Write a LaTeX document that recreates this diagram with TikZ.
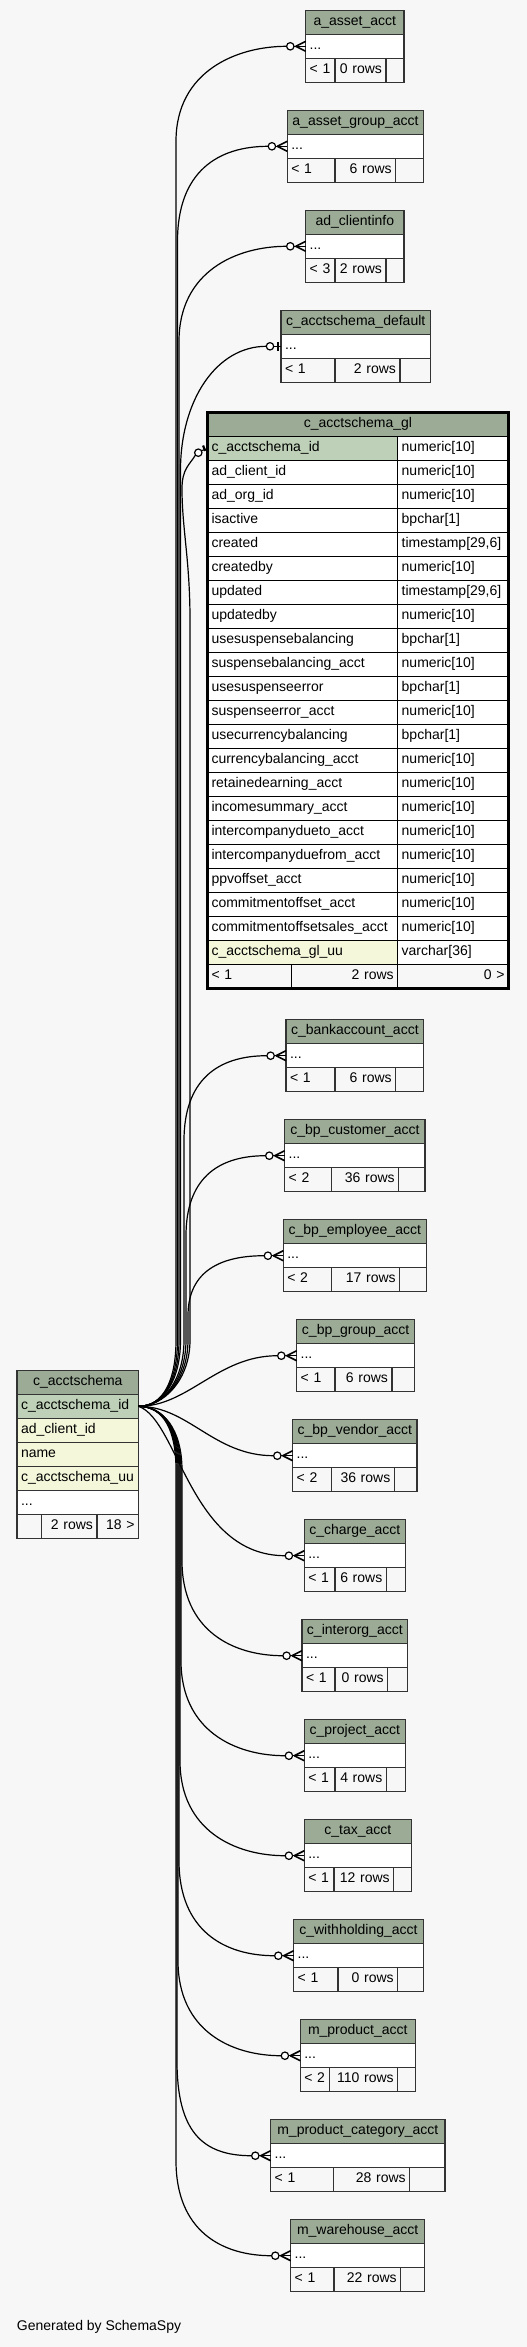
\documentclass[tikz,border=0pt]{standalone}
\usepackage{fontspec}
\setmainfont{Liberation Sans}
\usetikzlibrary{calc}
\definecolor{cBg}{HTML}{F7F7F7}
\definecolor{cHead}{HTML}{9BAB96}
\definecolor{cKey}{HTML}{BED1B8}
\definecolor{cIdx}{HTML}{F4F7DA}
\definecolor{cLine}{HTML}{333333}

\newcommand{\tfont}{\fontsize{14}{16}\selectfont}

% small table: name, left, top, right, title, min, rows, div1, div2
\newcommand{\accttable}[9]{%
  \pgfmathsetmacro{\wA}{#4-#2-8}%
  \pgfmathsetmacro{\wB}{#8-#2-8}%
  \pgfmathsetmacro{\wC}{#9-#8-8}%
  \pgfmathsetmacro{\wD}{#4-#9-8}%
  \node[hcell, text width=\wA pt] (#1-h) at (#2,#3) {#5};
  \node[rcell, text width=\wA pt] (#1-r) at (#2,#3+24) {...};
  \node[fcell, text width=\wB pt] (#1-f1) at (#2,#3+48) {#6};
  \node[fcell, text width=\wC pt, align=right] (#1-f2) at (#8,#3+48) {#7};
  \node[fcell, text width=\wD pt] (#1-f3) at (#9,#3+48) {};
}

% zero-or-many end at the dots row of a table
\newcommand{\crowfoot}[1]{%
  \draw[rel] ($(#1-r.west)+(-11.7,0)$) -- (#1-r.west);
  \draw[crowline] ($(#1-r.west)+(-10,0)$) -- ($(#1-r.west)+(0,-5)$);
  \draw[crowline] ($(#1-r.west)+(-10,0)$) -- ($(#1-r.west)+(0,5)$);
  \draw[rel, fill=white] ($(#1-r.west)+(-15.4,0)$) circle[radius=3.7];
}

% link going up the bundle: target, lane, rise, bend
\newcommand{\uplink}[4]{%
  \draw[rel] let \p1=(#1-r.west) in
    (acs-id.east) .. controls +(25,0) and +(0,40) .. (#2,1340)
    -- (#2,\y1-#3) .. controls +(0,-#4) and +(-50,0) .. ($(#1-r.west)+(-19.1,0)$);
  \crowfoot{#1}}

% link going down the bundle: target, lane, drop, bend
\newcommand{\downlink}[4]{%
  \draw[rel] let \p1=(#1-r.west) in
    (acs-id.east) .. controls +(25,0) and +(0,-40) .. (#2,1470)
    -- (#2,\y1+#3) .. controls +(0,#4) and +(-50,0) .. ($(#1-r.west)+(-19.1,0)$);
  \crowfoot{#1}}

\begin{document}
\begin{tikzpicture}[
    x=1pt, y=-1pt,
    % --- Cell styles ---
    cell/.style={
        draw=cLine, line width=1.3pt, anchor=north west, outer sep=0pt,
        inner xsep=4pt, inner ysep=0pt, minimum height=24pt,
        text height=10pt, text depth=3.5pt, font=\tfont, align=left
    },
    hcell/.style={cell, fill=cHead, align=center},
    rcell/.style={cell, fill=white},
    fcell/.style={cell, fill=cBg},
    gcell/.style={cell, draw=black, line width=0.9pt},
    % --- Link styles ---
    rel/.style={draw=black, line width=1.2pt},
    crowline/.style={draw=black, line width=1.6pt},
    barline/.style={draw=black, line width=2.2pt},
]

\fill[cBg] (0,0) rectangle (527,2347);
\useasboundingbox (0,0) rectangle (527,2347);

% =============================================
% CHILD TABLES (right column)
% =============================================

\accttable{aaa}{305.7}{10.3}{404}{a\_asset\_acct}{< 1}{0 rows}{335}{386}
\accttable{aag}{287.3}{110.3}{423.7}{a\_asset\_group\_acct}{< 1}{6 rows}{335}{395.7}
\accttable{aci}{305.7}{210.3}{404}{ad\_clientinfo}{< 3}{2 rows}{335}{386}
\accttable{asd}{281}{310.3}{430.3}{c\_acctschema\_default}{< 1}{2 rows}{335}{400}

\accttable{bka}{286}{1019.7}{423.7}{c\_bankaccount\_acct}{< 1}{6 rows}{335}{395.7}
\accttable{bpc}{284.7}{1119.7}{425}{c\_bp\_customer\_acct}{< 2}{36 rows}{331.3}{398.7}
\accttable{bpe}{283.3}{1219.7}{426.3}{c\_bp\_employee\_acct}{< 2}{17 rows}{331.3}{399.7}
\accttable{bpg}{296.7}{1319.7}{414.7}{c\_bp\_group\_acct}{< 1}{6 rows}{335}{392}
\accttable{bpv}{292.7}{1419.7}{417}{c\_bp\_vendor\_acct}{< 2}{36 rows}{331.3}{394.3}
\accttable{chg}{304.3}{1519.7}{405.3}{c\_charge\_acct}{< 1}{6 rows}{335}{386.3}
\accttable{ioa}{302}{1619.7}{407.7}{c\_interorg\_acct}{< 1}{0 rows}{335}{387.7}
\accttable{prj}{304.3}{1719.7}{405.3}{c\_project\_acct}{< 1}{4 rows}{335}{386.3}
\accttable{tax}{304.3}{1819.7}{411.3}{c\_tax\_acct}{< 1}{12 rows}{334}{393.7}
\accttable{whd}{293.7}{1919.7}{423.3}{c\_withholding\_acct}{< 1}{0 rows}{338}{397.7}
\accttable{mpa}{300.3}{2019.7}{415.3}{m\_product\_acct}{< 2}{110 rows}{329.7}{397.7}
\accttable{mpc}{270.7}{2119.7}{445}{m\_product\_category\_acct}{< 1}{28 rows}{333.7}{409.7}
\accttable{mwh}{290.7}{2219.7}{424.7}{m\_warehouse\_acct}{< 1}{22 rows}{334}{400.7}

% =============================================
% C_ACCTSCHEMA_GL (full column list)
% =============================================

\node[gcell, fill=cHead, align=center, text width=293pt, minimum height=24.5pt] (gl-h) at (207.5,412.2) {c\_acctschema\_gl};

\foreach \nm/\ty/\cl [count=\i] in {
    c\_acctschema\_id/numeric[10]/cKey,
    ad\_client\_id/numeric[10]/white,
    ad\_org\_id/numeric[10]/white,
    isactive/bpchar[1]/white,
    created/{timestamp[29,6]}/white,
    createdby/numeric[10]/white,
    updated/{timestamp[29,6]}/white,
    updatedby/numeric[10]/white,
    usesuspensebalancing/bpchar[1]/white,
    suspensebalancing\_acct/numeric[10]/white,
    usesuspenseerror/bpchar[1]/white,
    suspenseerror\_acct/numeric[10]/white,
    usecurrencybalancing/bpchar[1]/white,
    currencybalancing\_acct/numeric[10]/white,
    retainedearning\_acct/numeric[10]/white,
    incomesummary\_acct/numeric[10]/white,
    intercompanydueto\_acct/numeric[10]/white,
    intercompanyduefrom\_acct/numeric[10]/white,
    ppvoffset\_acct/numeric[10]/white,
    commitmentoffset\_acct/numeric[10]/white,
    commitmentoffsetsales\_acct/numeric[10]/white,
    c\_acctschema\_gl\_uu/varchar[36]/cIdx%
} {
    \node[gcell, fill=\cl, text width=182.2pt] (gl-n\i) at (207.5,{436.7+24*(\i-1)}) {\nm};
    \node[gcell, fill=white, text width=102.8pt] (gl-t\i) at (397.7,{436.7+24*(\i-1)}) {\ty};
}

\node[gcell, fill=cBg, text width=75.5pt] (gl-f1) at (207.5,964.7) {< 1};
\node[gcell, fill=cBg, text width=98.7pt, align=right] (gl-f2) at (291,964.7) {2 rows};
\node[gcell, fill=cBg, text width=102.8pt, align=right] (gl-f3) at (397.7,964.7) {0 >};

\draw[line width=3pt] (gl-h.north west) rectangle (gl-f3.south east);

% =============================================
% C_ACCTSCHEMA (parent table, left)
% =============================================

\node[hcell, text width=113.6pt] (acs-h) at (17,1370.3) {c\_acctschema};
\node[rcell, fill=cKey, text width=113.6pt] (acs-id) at (17,1394.3) {c\_acctschema\_id};
\node[rcell, fill=cIdx, text width=113.6pt] (acs-cl) at (17,1418.3) {ad\_client\_id};
\node[rcell, fill=cIdx, text width=113.6pt] (acs-nm) at (17,1442.3) {name};
\node[rcell, fill=cIdx, text width=113.6pt] (acs-uu) at (17,1466.3) {c\_acctschema\_uu};
\node[rcell, text width=113.6pt] (acs-r) at (17,1490.3) {...};
\node[fcell, text width=16.3pt] (acs-f1) at (17,1514.3) {};
\node[fcell, text width=47.7pt, align=right] (acs-f2) at (41.3,1514.3) {2 rows};
\node[fcell, text width=33.6pt, align=right] (acs-f3) at (97,1514.3) {18 >};

% =============================================
% LINKS
% =============================================

% up the bundle
\uplink{aaa}{176}{95}{70}
\uplink{aag}{177.5}{95}{70}
\uplink{aci}{179}{95}{70}

% zero-or-one to c_acctschema_default
\draw[rel] let \p1=(asd-r.west) in
    (acs-id.east) .. controls +(25,0) and +(0,40) .. (180.5,1340)
    -- (180.5,\y1-124) .. controls +(0,-70) and +(-50,0) .. ($(asd-r.west)+(-14.7,0)$);
\draw[rel] ($(asd-r.west)+(-7.3,0)$) -- (asd-r.west);
\draw[barline] ($(asd-r.west)+(-3,-4.5)$) -- ($(asd-r.west)+(-3,4.5)$);
\draw[rel, fill=white] ($(asd-r.west)+(-11,0)$) circle[radius=3.7];

% zero-or-one to c_acctschema_gl
\draw[rel] let \p1=(gl-n1.west) in
    (acs-id.east) .. controls +(25,0) and +(0,40) .. (190,1340)
    -- (190,620) .. controls +(0,-60) and +(0,40) .. (182,\y1-40)
    .. controls +(0,-20) and +(-6,10) .. ($(gl-n1.west)+(-11.8,6)$);
\draw[rel] ($(gl-n1.west)+(-6.2,2)$) -- (gl-n1.west);
\draw[barline] ($(gl-n1.west)+(-4.4,-3.2)$) -- ($(gl-n1.west)+(-2.4,2.2)$);
\draw[rel, fill=white] ($(gl-n1.west)+(-9.2,4)$) circle[radius=3.7];

\uplink{bka}{184}{85}{60}
\uplink{bpc}{186}{80}{55}
\uplink{bpe}{188}{60}{40}

% straight across
\draw[rel] (acs-id.east) .. controls +(50,0) and +(-60,0) .. ($(bpg-r.west)+(-19.1,0)$);
\crowfoot{bpg}
\draw[rel] (acs-id.east) .. controls +(50,0) and +(-60,0) .. ($(bpv-r.west)+(-19.1,0)$);
\crowfoot{bpv}
\draw[rel] (acs-id.east) .. controls +(40,14) and +(-95,0) .. ($(chg-r.west)+(-19.1,0)$);
\crowfoot{chg}

% down the bundle
\downlink{ioa}{182}{95}{70}
\downlink{prj}{181}{95}{70}
\downlink{tax}{180}{95}{70}
\downlink{whd}{179}{95}{70}
\downlink{mpa}{178}{95}{70}
\downlink{mpc}{177}{95}{70}
\downlink{mwh}{176}{95}{70}

% =============================================
% FOOTNOTE
% =============================================

\node[font=\tfont, anchor=west, inner sep=0pt] (gen) at (16.7,2327) {Generated by SchemaSpy};

\end{tikzpicture}
\end{document}
